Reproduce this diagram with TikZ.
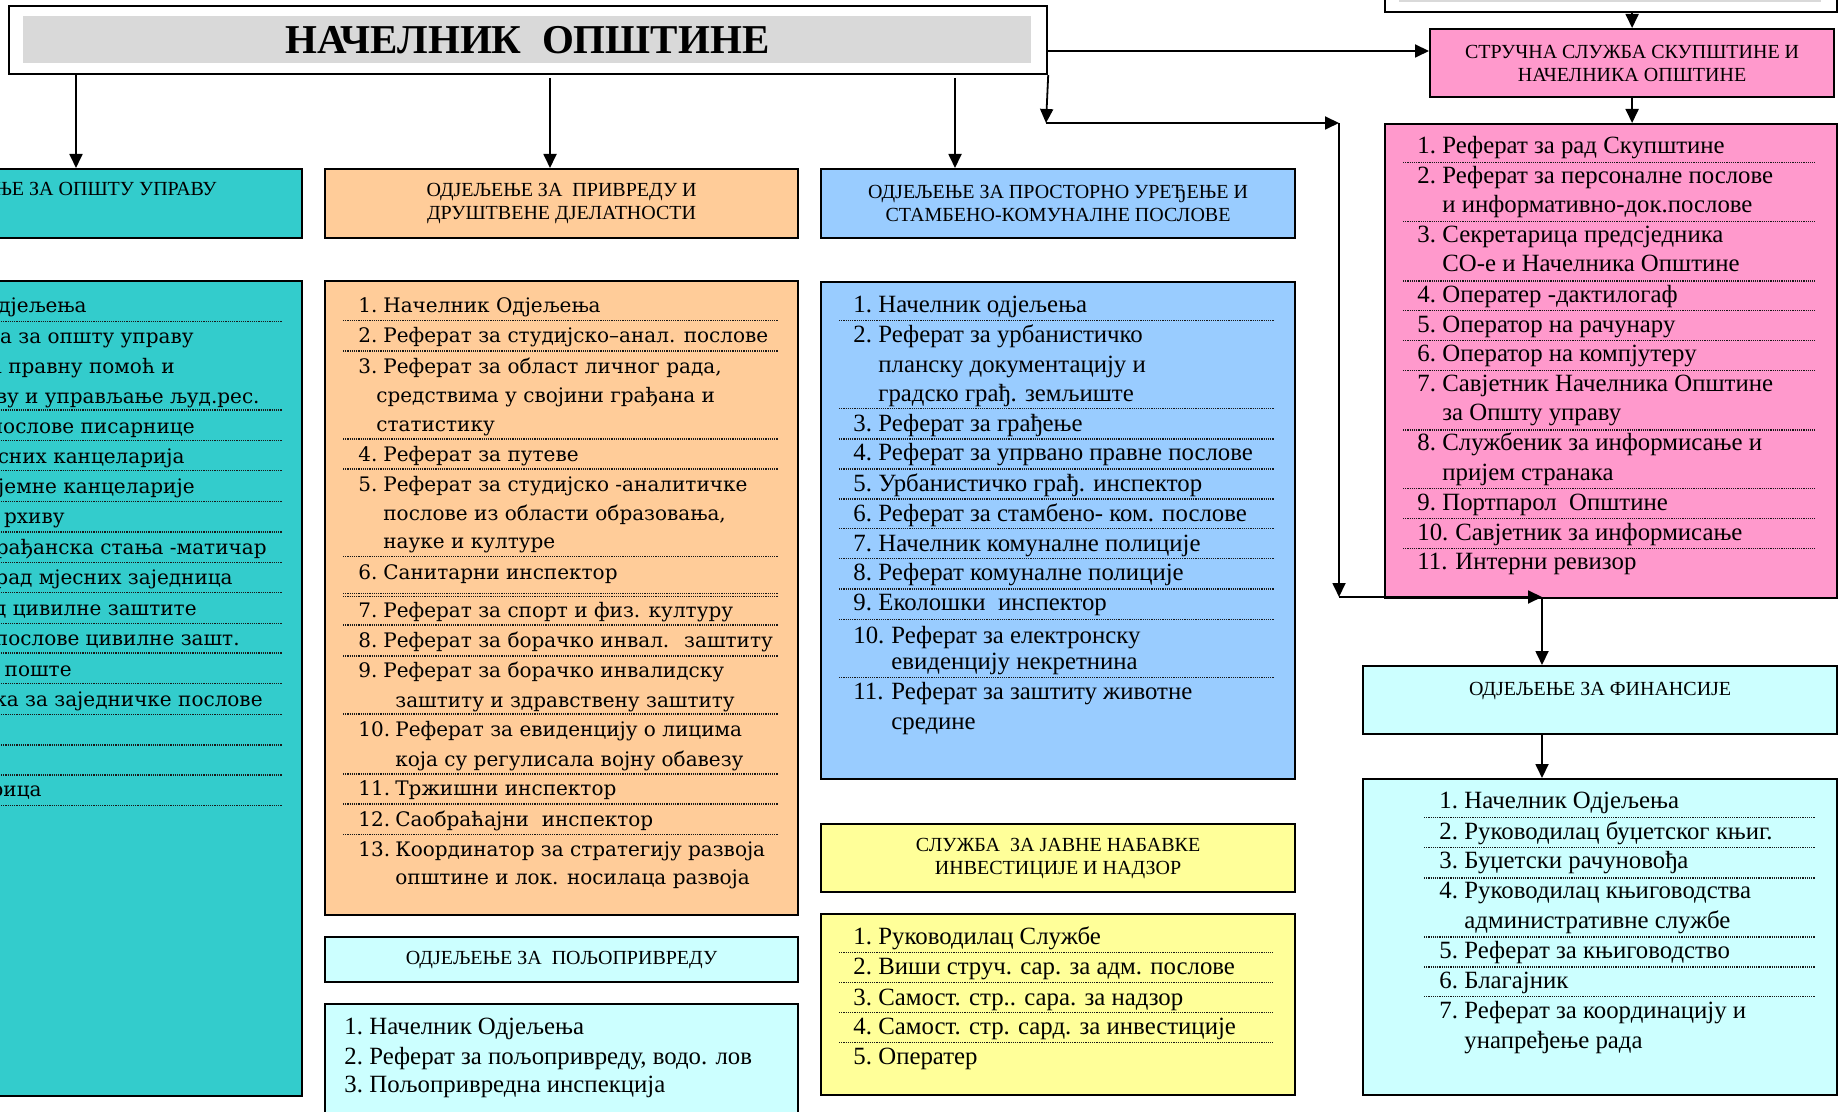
\documentclass[tikz,border=0pt]{standalone}
\usepackage{fontspec}
\setmainfont{Liberation Serif}
\newfontfamily\wfam{DejaVu Serif}
\usetikzlibrary{arrows.meta}
\definecolor{cTeal}{HTML}{33CCCC}
\definecolor{cOrng}{HTML}{FFCC99}
\definecolor{cBlue}{HTML}{99CCFF}
\definecolor{cPink}{HTML}{FF99CC}
\definecolor{cCyan}{HTML}{CCFFFF}
\definecolor{cYell}{HTML}{FFFF99}
\definecolor{cGray}{HTML}{D9D9D9}
\newcommand\ttlfont{\fontsize{20.5pt}{24pt}\selectfont\bfseries}
\newcommand\hdrfont{\fontsize{10pt}{11.5pt}\selectfont}
\newcommand\lstfont{\fontsize{12.4pt}{14pt}\selectfont}
\newcommand\widefont{\wfam\fontsize{10pt}{12pt}\selectfont}
\newcommand\nA[1]{\makebox[12.5pt][l]{#1}}
\newcommand\nB[1]{\makebox[19pt][l]{#1}}
\newcommand\nC[1]{\makebox[18.5pt][l]{#1}}
\begin{document}
\begin{tikzpicture}[x=0.5pt,y=-0.5pt,
  box/.style={draw=black, line width=1.1pt, inner sep=0pt, anchor=north west, font=\hdrfont, align=center},
  tl/.style={anchor=base west, inner sep=0pt, font=\lstfont},
  wl/.style={anchor=base west, inner sep=0pt, font=\widefont},
  we/.style={anchor=base east, inner sep=0pt, font=\widefont},
  sep/.style={line width=0.75pt, dash pattern=on 0.6pt off 0.5pt, black!90},
  arr/.style={line width=0.9pt, -{Triangle[length=7pt,width=6.5pt]}}]
\useasboundingbox (0,0) rectangle (1846,1112);
\clip (0,0) rectangle (1846,1112);

% ---------- top ----------
\node[box, fill=white, minimum width=519pt, minimum height=34pt] (main) at (8,5) {};
\node[anchor=north west, inner sep=0pt, fill=cGray, minimum width=504pt, minimum height=23.5pt, font=\ttlfont] (title) at (23,16) {НАЧЕЛНИК~ ОПШТИНЕ};
\node[box, fill=white, minimum width=226pt, minimum height=36pt] (topbox) at (1384,-61) {};
\node[anchor=north west, inner sep=0pt, fill=cGray, minimum width=211pt, minimum height=26pt] (topin) at (1399,-50) {};

% ---------- headers ----------
\node[box, fill=cTeal, minimum width=170.5pt, minimum height=34.3pt] (thead) at (-40,168) {};
\node[anchor=base east, inner sep=0pt, font=\hdrfont] (ttext) at (217,196) {ЊЕ ЗА ОПШТУ УПРАВУ};
\node[box, fill=cOrng, minimum width=236.5pt, minimum height=34.5pt] (ohead) at (324,168) {ОДЈЕЉЕЊЕ ЗА~ ПРИВРЕДУ И\\ДРУШТВЕНЕ ДЈЕЛАТНОСТИ};
\node[box, fill=cBlue, minimum width=237pt, minimum height=34.5pt] (bhead) at (820,168) {ОДЈЕЉЕЊЕ ЗА ПРОСТОРНО УРЕЂЕЊЕ И\\СТАМБЕНО-КОМУНАЛНЕ ПОСЛОВЕ};
\node[box, fill=cPink, minimum width=202pt, minimum height=34pt] (phead) at (1429,28) {СТРУЧНА СЛУЖБА СКУПШТИНЕ И\\НАЧЕЛНИКА ОПШТИНЕ};
\node[box, fill=cYell, minimum width=237pt, minimum height=34pt] (yhead) at (820,823) {СЛУЖБА~ ЗА ЈАВНЕ НАБАВКЕ\\ИНВЕСТИЦИЈЕ И НАДЗОР};
\node[box, fill=cCyan, minimum width=236.5pt, minimum height=22.5pt] (ghead) at (324,936) {ОДЈЕЉЕЊЕ ЗА~ ПОЉОПРИВРЕДУ};
\node[box, fill=cCyan, minimum width=237pt, minimum height=34pt] (fhead) at (1362,665) {ОДЈЕЉЕЊЕ ЗА ФИНАНСИЈЕ\\~};

% ---------- list boxes ----------
\node[box, fill=cTeal, minimum width=170.5pt, minimum height=407.5pt] (tlist) at (-40,280) {};
\node[box, fill=cOrng, minimum width=236.5pt, minimum height=317pt] (olist) at (324,280) {};
\node[box, fill=cBlue, minimum width=237pt, minimum height=248.5pt] (blist) at (820,281) {};
\node[box, fill=cYell, minimum width=237pt, minimum height=90.5pt] (ylist) at (820,913) {};
\node[box, fill=cCyan, minimum width=236.5pt, minimum height=80pt] (glist) at (324,1003) {};
\node[box, fill=cPink, minimum width=226pt, minimum height=237pt] (plist) at (1384,123) {};
\node[box, fill=cCyan, minimum width=237pt, minimum height=158pt] (flist) at (1362,778) {};

% ---------- connectors ----------
\coordinate (a2) at (550,78);
\coordinate (a3) at (955,78);
\coordinate (c1) at (1046,123);
\coordinate (c2) at (1339,123);
\coordinate (c3) at (1339,597);
\coordinate (c4) at (1542,597);
\draw[arr] (main.south -| 76,0) -- (thead.north -| 76,0);
\draw[arr] (a2) -- (ohead.north -| a2);
\draw[arr] (a3) -- (bhead.north -| a3);
\draw[arr] (main.east |- 0,51) -- (phead.west |- 0,51);
\draw[arr] (main.south east) -- (c1);
\draw[arr] (c1) -- (c2);
\draw[arr] (c2) -- (c3);
\draw[arr] (c3) -- (c4);
\draw[arr] (c4) -- (fhead.north -| c4);
\draw[arr] (fhead.south -| c4) -- (flist.north -| c4);
\draw[arr] (phead.north |- topbox.south) -- (phead.north);
\draw[arr] (phead.south) -- (plist.north -| phead.south);

% ---------- teal list (partly outside) ----------
\node[we] (t1) at (87,313) {дјељења};
\node[we] (t2) at (194,344) {а за општу управу};
\node[we] (t3) at (175,374) {а правну помоћ и};
\node[we] (t4) at (260,403) {ву и управљање људ.рес.};
\node[we] (t5) at (195,433) {послове писарнице};
\node[we] (t6) at (185,463) {сних канцеларија};
\node[we] (t7) at (195,493) {јемне канцеларије};
\node[we] (t8) at (65,523) {рхиву};
\node[we] (t9) at (267,554) {рађанска стања -матичар};
\node[we] (t10) at (233,584) {рад мјесних заједница};
\node[we] (t11) at (197,615) {д цивилне заштите};
\node[we] (t12) at (240,645) {послове цивилне зашт.};
\node[we] (t13) at (72,676) {поште};
\node[we] (t14) at (263,706) {ека за заједничке послове};
\node[we] (t15) at (42,796) {рица};
\foreach \yy in {321.5,409.8,440.7,470.5,501.4,531.8,562.7,592.5,623.4,653.2,683.6,714.4,744.8,775.1,805.5}
  \draw[sep] (-10,\yy) -- (282,\yy);

% ---------- orange list ----------
\node[wl] (o1) at (358,313) {\nA{1.}Начелник Одјељења};
\node[wl] (o2) at (358,343) {\nA{2.}Реферат за студијско–анал. послове};
\node[wl] (o3) at (358,374) {\nA{3.}Реферат за област личног рада,};
\node[wl] (o3b) at (376,402) {средствима у својини грађана и};
\node[wl] (o3c) at (376,431) {статистику};
\node[wl] (o4) at (358,461) {\nA{4.}Реферат за путеве};
\node[wl] (o5) at (358,491) {\nA{5.}Реферат за студијско -аналитичке};
\node[wl] (o5b) at (383,520) {послове из области образовања,};
\node[wl] (o5c) at (383,548) {науке и културе};
\node[wl] (o6) at (358,579) {\nA{6.}Санитарни инспектор};
\node[wl] (o7) at (358,617) {\nA{7.}Реферат за спорт и физ. културу};
\node[wl] (o8) at (358,647) {\nA{8.}Реферат за борачко инвал.~ заштиту};
\node[wl] (o9) at (358,677) {\nA{9.}Реферат за борачко инвалидску};
\node[wl] (o9b) at (395,707) {заштиту и здравствену заштиту};
\node[wl] (o10) at (358,736) {\nC{10.}Реферат за евиденцију о лицима};
\node[wl] (o10b) at (395,766) {која су регулисала војну обавезу};
\node[wl] (o11) at (358,795) {\nC{11.}Тржишни инспектор};
\node[wl] (o12) at (358,826) {\nC{12.}Саобраћајни~ инспектор};
\node[wl] (o13) at (358,856) {\nC{13.}Координатор за стратегију развоја};
\node[wl] (o13b) at (395,884) {општине и лок. носилаца развоја};
\foreach \yy in {320.6,350.9,438.9,469.2,556.3,593.5,596.5,624.8,655.9,714,774.1,804,834.3}
  \draw[sep] (343,\yy) -- (778,\yy);

% ---------- blue list ----------
\node[tl] (b1) at (853,313) {\nA{1.}Начелник одјељења};
\node[tl] (b2) at (853,343) {\nA{2.}Реферат за урбанистичко};
\node[tl] (b2b) at (878,372) {планску документацију и};
\node[tl] (b2c) at (878,401) {градско грађ. земљиште};
\node[tl] (b3) at (853,431) {\nA{3.}Реферат за грађење};
\node[tl] (b4) at (853,460) {\nA{4.}Реферат за упрвано правне послове};
\node[tl] (b5) at (853,491) {\nA{5.}Урбанистичко грађ. инспектор};
\node[tl] (b6) at (853,521) {\nA{6.}Реферат за стамбено- ком. послове};
\node[tl] (b7) at (853,551) {\nA{7.}Начелник комуналне полиције};
\node[tl] (b8) at (853,580) {\nA{8.}Реферат комуналне полиције};
\node[tl] (b9) at (853,610) {\nA{9.}Еколошки~ инспектор};
\node[tl] (b10) at (853,643) {\nB{10.}Реферат за електронску};
\node[tl] (b10b) at (891,669) {евиденцију некретнина};
\node[tl] (b11) at (853,699) {\nB{11.}Реферат за заштиту животне};
\node[tl] (b11b) at (891,729) {средине};
\foreach \yy in {320.7,408.3,439,469,499,528.3,558.3,589,619.3,677.3}
  \draw[sep] (839,\yy) -- (1274,\yy);

% ---------- pink list ----------
\node[tl] (p1) at (1417,154) {\nA{1.}Реферат за рад Скупштине};
\node[tl] (p2) at (1417,184) {\nA{2.}Реферат за персоналне послове};
\node[tl] (p2b) at (1442,213) {и информативно-док.послове};
\node[tl] (p3) at (1417,243) {\nA{3.}Секретарица предсједника};
\node[tl] (p3b) at (1442,272) {СО-е и Начелника Општине};
\node[tl] (p4) at (1417,303) {\nA{4.}Оператер -дактилогаф};
\node[tl] (p5) at (1417,333) {\nA{5.}Оператор на рачунару};
\node[tl] (p6) at (1417,362) {\nA{6.}Оператор на компјутеру};
\node[tl] (p7) at (1417,392) {\nA{7.}Савјетник Начелника Општине};
\node[tl] (p7b) at (1442,421) {за Општу управу};
\node[tl] (p8) at (1417,451) {\nA{8.}Службеник за информисање и};
\node[tl] (p8b) at (1442,480) {пријем странака};
\node[tl] (p9) at (1417,510) {\nA{9.}Портпарол~ Општине};
\node[tl] (p10) at (1417,540) {\nB{10.}Савјетник за информисање};
\node[tl] (p11) at (1417,569) {\nB{11.}Интерни ревизор};
\foreach \yy in {162.3,221.7,281,310.7,340.7,370.7,430,488.3,518.3,548.3}
  \draw[sep] (1403,\yy) -- (1815,\yy);

% ---------- finance list ----------
\node[tl] (f1) at (1439,808) {\nA{1.}Начелник Одјељења};
\node[tl] (f2) at (1439,839) {\nA{2.}Руководилац буџетског књиг.};
\node[tl] (f3) at (1439,868) {\nA{3.}Буџетски рачуновођа};
\node[tl] (f4) at (1439,898) {\nA{4.}Руководилац књиговодства};
\node[tl] (f4b) at (1464,928) {административне службе};
\node[tl] (f5) at (1439,958) {\nA{5.}Реферат за књиговодство};
\node[tl] (f6) at (1439,988) {\nA{6.}Благајник};
\node[tl] (f7) at (1439,1018) {\nA{7.}Реферат за координацију и};
\node[tl] (f7b) at (1464,1048) {унапређење рада};
\foreach \yy in {817.5,847.4,877.9,937,966.8,996.7}
  \draw[sep] (1424,\yy) -- (1815,\yy);

% ---------- yellow list ----------
\node[tl] (y1) at (853,944) {\nA{1.}Руководилац Службе};
\node[tl] (y2) at (853,974) {\nA{2.}Виши струч. сар. за адм. послове};
\node[tl] (y3) at (853,1005) {\nA{3.}Самост. стр.. сара. за надзор};
\node[tl] (y4) at (853,1034) {\nA{4.}Самост. стр. сард. за инвестиције};
\node[tl] (y5) at (853,1064) {\nA{5.}Оператер};
\foreach \yy in {952.7,982.7,1012.3,1042.3}
  \draw[sep] (839,\yy) -- (1273,\yy);

% ---------- agriculture list ----------
\node[tl] (g1) at (344,1034) {\nA{1.}Начелник Одјељења};
\node[tl] (g2) at (344,1064) {\nA{2.}Реферат за пољопривреду, водо. лов};
\node[tl] (g3) at (344,1092) {\nA{3.}Пољопривредна инспекција};
\end{tikzpicture}
\end{document}
